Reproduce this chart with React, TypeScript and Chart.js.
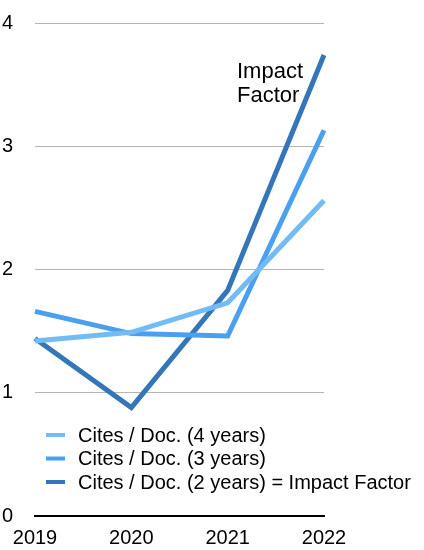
import React, { useEffect, useRef } from "react";
import { Chart, registerables } from "chart.js";

Chart.register(...registerables);

const years = ["2019", "2020", "2021", "2022"];
const cites4 = [1.42, 1.49, 1.73, 2.56];
const cites3 = [1.66, 1.48, 1.46, 3.13];
const cites2 = [1.44, 0.88, 1.83, 3.74];
const seriesLabels = [
  "Cites / Doc. (4 years)",
  "Cites / Doc. (3 years)",
  "Cites / Doc. (2 years) = Impact Factor",
];
const annotationLines = ["Impact", "Factor"];
const yTicks = [0, 1, 2, 3, 4];

const FONT = "'Liberation Sans', Arial, Helvetica, sans-serif";

const overlayPlugin = {
  id: "overlay",
  afterDatasetsDraw(chart: any) {
    const ctx = chart.ctx;
    ctx.save();
    // legend
    ctx.font = `20px ${FONT}`;
    ctx.textBaseline = "middle";
    ctx.textAlign = "left";
    chart.data.datasets.forEach((ds: any, i: number) => {
      const y = 435 + i * 23.5;
      ctx.strokeStyle = ds.borderColor;
      ctx.lineWidth = 4;
      ctx.beginPath();
      ctx.moveTo(46, y);
      ctx.lineTo(65, y);
      ctx.stroke();
      ctx.fillStyle = "#000";
      ctx.fillText(ds.label, 78, y + 1);
    });
    // annotation
    ctx.font = `22px ${FONT}`;
    ctx.textBaseline = "alphabetic";
    annotationLines.forEach((t, i) => {
      ctx.fillText(t, 237, 78 + i * 24);
    });
    ctx.restore();
  },
};

export default function App() {
  const ref = useRef<HTMLCanvasElement | null>(null);
  useEffect(() => {
    document.body.style.margin = "0";
    const colors = ["#72bbf4", "#4aa0ef", "#3576b8"];
    const values = [cites4, cites3, cites2];
    const chart = new Chart(ref.current as HTMLCanvasElement, {
      type: "line",
      data: {
        labels: years,
        datasets: values.map((v, i) => ({
          label: seriesLabels[i],
          data: v,
          borderColor: colors[i],
          backgroundColor: colors[i],
          borderWidth: 5,
          pointRadius: 0,
          tension: 0,
          fill: false,
        })),
      },
      options: {
        animation: false,
        responsive: false,
        maintainAspectRatio: false,
        layout: { padding: { left: 2, right: 100, top: 23, bottom: 0 } },
        plugins: { legend: { display: false }, tooltip: { enabled: false } },
        scales: {
          x: {
            offset: false,
            grid: { display: false, drawTicks: false },
            border: { display: true, color: "#000", width: 2 },
            ticks: {
              color: "#000",
              font: { family: FONT, size: 20 },
              padding: 10,
              maxRotation: 0,
            },
            afterFit: (s: any) => {
              s.height = 34;
            },
          },
          y: {
            min: 0,
            max: 4,
            afterBuildTicks: (s: any) => {
              s.ticks = yTicks.map((v) => ({ value: v }));
            },
            grid: {
              drawTicks: false,
              color: (c: any) => (c.tick && c.tick.value === 0 ? "rgba(0,0,0,0)" : "#b5b5b5"),
              lineWidth: 1,
            },
            border: { display: false },
            ticks: {
              color: "#000",
              font: { family: FONT, size: 20 },
              crossAlign: "far",
              padding: 0,
            },
            afterFit: (s: any) => {
              s.width = 33;
            },
          },
        },
      },
      plugins: [overlayPlugin],
    } as any);
    return () => chart.destroy();
  }, []);
  return (
    <div style={{ position: "absolute", left: 0, top: 0, width: 424, height: 550 }}>
      <canvas ref={ref} width={424} height={550} />
    </div>
  );
}
